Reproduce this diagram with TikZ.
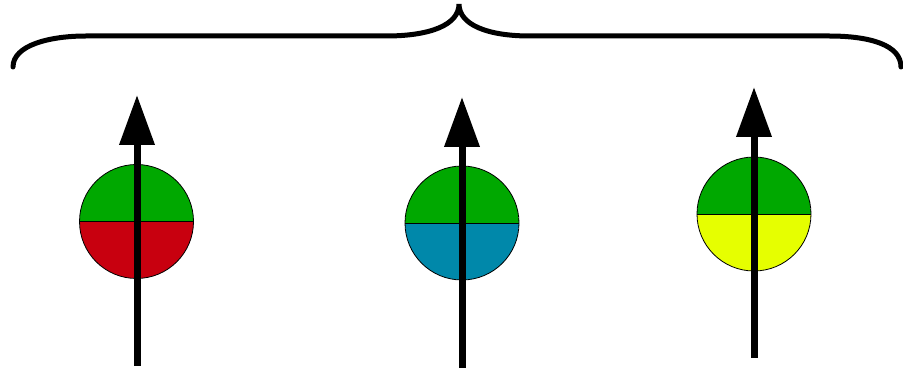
\documentclass[tikz,border=0pt]{standalone}
\usetikzlibrary{arrows.meta}
\definecolor{upgreen}{HTML}{00A800}
\definecolor{lowred}{HTML}{C8000F}
\definecolor{lowblue}{HTML}{0088AA}
\definecolor{lowyellow}{HTML}{E6FF00}
\begin{document}
\begin{tikzpicture}[x=1pt,y=-1pt,
  brace/.style={line width=5pt,line cap=round},
  ball/.style={circle,minimum size=114pt,inner sep=0pt,draw=black,line width=0.8pt},
  divider/.style={draw=black,line width=0.8pt},
  spinarrow/.style={line width=7pt,-{Triangle[width=34pt,length=50pt]}}]
\useasboundingbox (0,0) rectangle (903,371);
% brace
\coordinate (bl) at (13,67);
\coordinate (bm) at (459,4);
\coordinate (br) at (901,67);
\draw[brace] (bl) .. controls (13,45) and (50,36) .. (86,36) -- (386,36)
  .. controls (430,36) and (459,25) .. (bm)
  .. controls (459,25) and (488,36) .. (530,36) -- (829,36)
  .. controls (870,36) and (901,45) .. (br);
% balls
\node[ball,path picture={
  \fill[upgreen] (path picture bounding box.north west) rectangle (path picture bounding box.east);
  \fill[lowred] (path picture bounding box.west) rectangle (path picture bounding box.south east);}]
  (c1) at (136.5,221.5) {};
\draw[divider] (c1.west) -- (c1.east);
\node[ball,path picture={
  \fill[upgreen] (path picture bounding box.north west) rectangle (path picture bounding box.east);
  \fill[lowblue] (path picture bounding box.west) rectangle (path picture bounding box.south east);}]
  (c2) at (462,223) {};
\draw[divider] (c2.west) -- (c2.east);
\node[ball,path picture={
  \fill[upgreen] (path picture bounding box.north west) rectangle (path picture bounding box.east);
  \fill[lowyellow] (path picture bounding box.west) rectangle (path picture bounding box.south east);}]
  (c3) at (754,214) {};
\draw[divider] (c3.west) -- (c3.east);
% arrows
\coordinate (a1) at (137,366);
\coordinate (t1) at (137,95);
\coordinate (a2) at (462,368);
\coordinate (t2) at (462,97);
\coordinate (a3) at (754,358);
\coordinate (t3) at (754,87);
\draw[spinarrow] (a1) -- (t1);
\draw[spinarrow] (a2) -- (t2);
\draw[spinarrow] (a3) -- (t3);
\end{tikzpicture}
\end{document}
